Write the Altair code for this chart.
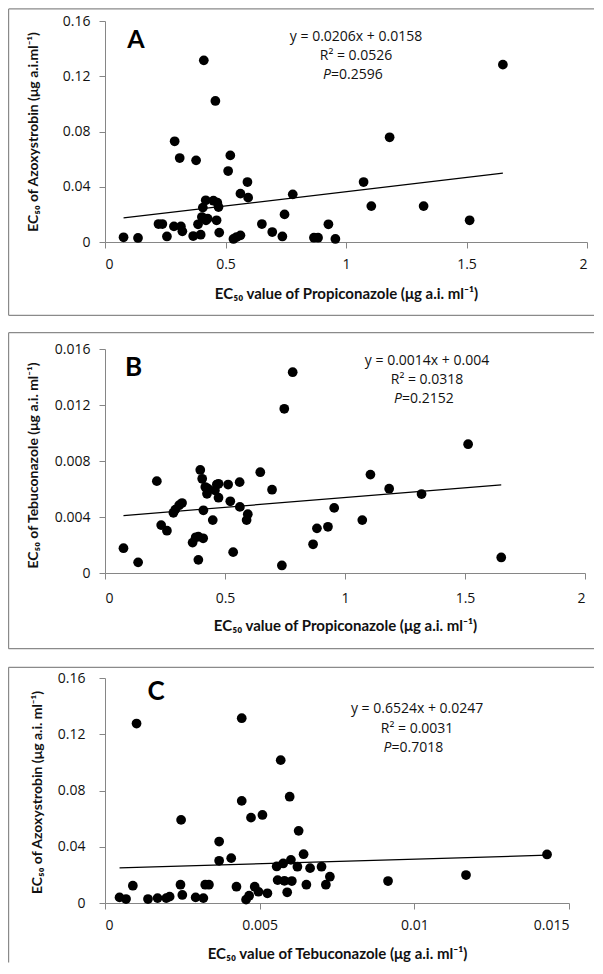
import altair as alt
import pandas as pd

# ---------------- Panel A : Propiconazole (x) vs Azoxystrobin (y)
a_x = [0.077, 0.137, 0.222, 0.238, 0.257, 0.286, 0.289, 0.310, 0.315, 0.321,
       0.366, 0.378, 0.386, 0.397, 0.402, 0.406, 0.410, 0.418, 0.419, 0.426,
       0.450, 0.458, 0.463, 0.466, 0.471, 0.474, 0.511, 0.520, 0.533, 0.546,
       0.562, 0.562, 0.591, 0.594, 0.651, 0.694, 0.736, 0.745, 0.779, 0.867,
       0.884, 0.927, 0.956, 1.073, 1.105, 1.181, 1.322, 1.513, 1.651]
a_y = [0.0034, 0.0029, 0.0130, 0.0130, 0.0040, 0.0113, 0.0729, 0.0608, 0.0113, 0.0077,
       0.0043, 0.0591, 0.0128, 0.0053, 0.0181, 0.0249, 0.1315, 0.0302, 0.0157, 0.0169,
       0.0299, 0.1021, 0.0157, 0.0285, 0.0253, 0.0068, 0.0514, 0.0627, 0.0022, 0.0036,
       0.0048, 0.0350, 0.0434, 0.0321, 0.0130, 0.0072, 0.0040, 0.0200, 0.0345, 0.0031,
       0.0031, 0.0128, 0.0022, 0.0434, 0.0260, 0.0758, 0.0260, 0.0157, 0.1284]
a_line_x = [0.077, 1.651]
a_line_y = [0.0174, 0.0498]

# ---------------- Panel B : Propiconazole (x) vs Tebuconazole (y)
b_x = [0.077, 0.138, 0.216, 0.234, 0.258, 0.285, 0.293, 0.309, 0.321, 0.365,
       0.378, 0.389, 0.397, 0.389, 0.405, 0.409, 0.410, 0.418, 0.425, 0.429,
       0.449, 0.458, 0.466, 0.473, 0.473, 0.513, 0.522, 0.534, 0.561, 0.562,
       0.590, 0.595, 0.647, 0.696, 0.737, 0.747, 0.782, 0.867, 0.883, 0.929,
       0.955, 1.072, 1.106, 1.184, 1.319, 1.513, 1.651]
b_y = [0.00177, 0.00076, 0.00656, 0.00342, 0.00302, 0.00430, 0.00453, 0.00484, 0.00500, 0.00217,
       0.00255, 0.00094, 0.00736, 0.00260, 0.00673, 0.00248, 0.00448, 0.00614, 0.00566, 0.00602,
       0.00378, 0.00590, 0.00632, 0.00538, 0.00637, 0.00632, 0.00512, 0.00149, 0.00649, 0.00472,
       0.00378, 0.00420, 0.00720, 0.00595, 0.00054, 0.01173, 0.01434, 0.00205, 0.00319, 0.00330,
       0.00465, 0.00378, 0.00703, 0.00602, 0.00564, 0.00920, 0.00111]
b_line_x = [0.077, 1.651]
b_line_y = [0.0041, 0.0063]

# ---------------- Panel C : Tebuconazole (x) vs Azoxystrobin (y)
c_x = [0.00047, 0.00068, 0.00090, 0.00102, 0.00139, 0.00170, 0.00198, 0.00209, 0.00244, 0.00246,
       0.00250, 0.00293, 0.00318, 0.00324, 0.00336, 0.00369, 0.00369, 0.00408, 0.00425, 0.00442,
       0.00442, 0.00456, 0.00466, 0.00472, 0.00484, 0.00496, 0.00509, 0.00525, 0.00555, 0.00558,
       0.00568, 0.00576, 0.00580, 0.00589, 0.00597, 0.00601, 0.00604, 0.00622, 0.00626, 0.00642,
       0.00651, 0.00663, 0.00700, 0.00714, 0.00727, 0.00915, 0.01167, 0.01429]
c_y = [0.0040, 0.0028, 0.0123, 0.1276, 0.0028, 0.0035, 0.0035, 0.0045, 0.0130, 0.0591,
       0.0057, 0.0040, 0.0035, 0.0130, 0.0130, 0.0437, 0.0300, 0.0319, 0.0116, 0.1314,
       0.0726, 0.0024, 0.0052, 0.0607, 0.0116, 0.0080, 0.0626, 0.0069, 0.0260, 0.0163,
       0.1016, 0.0281, 0.0158, 0.0076, 0.0756, 0.0307, 0.0156, 0.0258, 0.0513, 0.0347,
       0.0130, 0.0248, 0.0258, 0.0130, 0.0187, 0.0156, 0.0199, 0.0345]
c_line_x = [0.00047, 0.01429]
c_line_y = [0.0250, 0.0340]

# ---------------- texts
letters = ["A", "B", "C"]
eq_lines = [["y = 0.0206x + 0.0158", "R² = 0.0526"],
            ["y = 0.0014x + 0.004", "R² = 0.0318"],
            ["y = 0.6524x + 0.0247", "R² = 0.0031"]]
p_values = ["=0.2596", "=0.2152", "=0.7018"]
x_titles = ["EC₅₀  value of Propiconazole  (μg a.i. ml⁻¹)",
            "EC₅₀  value of Propiconazole  (μg a.i. ml⁻¹)",
            "EC₅₀  value of Tebuconazole  (μg a.i. ml⁻¹)"]
y_titles = ["EC₅₀  of Azoxystrobin (μg a.i.ml⁻¹)",
            "EC₅₀ of Tebuconazole  (μg a.i. ml⁻¹)",
            "EC₅₀ of Azoxystrobin (μg a.i. ml⁻¹)"]
x_ticks = [[0, 0.5, 1, 1.5, 2], [0, 0.5, 1, 1.5, 2], [0, 0.005, 0.01, 0.015]]
y_ticks = [[0, 0.04, 0.08, 0.12, 0.16], [0, 0.004, 0.008, 0.012, 0.016],
           [0, 0.04, 0.08, 0.12, 0.16]]

# annotation anchor positions (data space)
letter_pos = [(0.1286, 0.1402), (0.1188, 0.01409), (0.00165, 0.1447)]
eq_center_x = [1.0415, 1.3417, 0.01009]
eq_line_y = [[0.1453, 0.1315, 0.1178], [0.01488, 0.01352, 0.01216],
             [0.1348, 0.1212, 0.1077]]
p_split_x = [0.9378, 1.2375, 0.00926]

LFONT = "Open Sans"
TFONT = "Lato"
AX = "#868686"

# geometry per panel (pixels)
geo = [
    dict(w=482, h=221, L=96.4, R=489, T=12.1, B=73.3, ls=25, lp=9, tx=-72, tyy=110.5, ty=51.3, xlp=9, bottom=True),
    dict(w=480, h=224, L=96.4, R=489, T=16.3, B=75.7, ls=26, lp=9, tx=-72, tyy=116, ty=52.7, xlp=12, bottom=True),
    dict(w=464, h=225, L=96.4, R=489, T=10.7, B=59.5, ls=26, lp=14, tx=-68, tyy=114, ty=50.3, xlp=9, bottom=False),
]


def panel(i, xs, ys, lx, ly):
    g = geo[i]
    xdom = [x_ticks[i][0], x_ticks[i][-1]]
    ydom = [y_ticks[i][0], y_ticks[i][-1]]
    xs_ = alt.Scale(domain=xdom, nice=False, zero=False)
    ys_ = alt.Scale(domain=ydom, nice=False, zero=False)

    df = pd.DataFrame({"x": xs, "y": ys})
    ldf = pd.DataFrame({"x": lx, "y": ly})
    one = pd.DataFrame({"k": [0]})

    xaxis = alt.Axis(values=x_ticks[i], format="~g", title=x_titles[i], grid=False,
                     domainColor=AX, tickColor=AX, tickSize=6, labelPadding=g["xlp"],
                     labelFont=LFONT, labelFontSize=14, labelColor="#111",
                     titleFont=TFONT, titleFontSize=15, titleFontWeight="bold",
                     titleColor="#111", titleY=g["ty"], titleBaseline="middle")
    yaxis = alt.Axis(values=y_ticks[i], format="~g", title=y_titles[i], grid=False,
                     domainColor=AX, tickColor=AX, tickSize=6, labelPadding=g["lp"],
                     labelFont=LFONT, labelFontSize=14, labelColor="#111",
                     titleFont=TFONT, titleFontSize=14, titleFontWeight="bold",
                     titleColor="#111", titleX=g["tx"], titleY=g["tyy"],
                     titleBaseline="middle")

    pts = alt.Chart(df).mark_circle(size=95, color="black", opacity=1).encode(
        x=alt.X("x:Q", scale=xs_, axis=xaxis),
        y=alt.Y("y:Q", scale=ys_, axis=yaxis),
    )
    line = alt.Chart(ldf).mark_line(color="black", strokeWidth=1.2).encode(
        x=alt.X("x:Q", scale=xs_), y=alt.Y("y:Q", scale=ys_))

    fr = alt.Chart(one).mark_rule(color="#8a8a8a", strokeWidth=1.2)
    frames = [
        fr.encode(x=alt.value(-g["L"]), x2=alt.value(g["R"]), y=alt.value(-g["T"])),
        fr.encode(x=alt.value(-g["L"]), y=alt.value(-g["T"]), y2=alt.value(g["h"] + g["B"])),
    ]
    if g["bottom"]:
        frames.append(fr.encode(x=alt.value(-g["L"]), x2=alt.value(g["R"]),
                                y=alt.value(g["h"] + g["B"])))

    ldf2 = pd.DataFrame({"x": [letter_pos[i][0]], "y": [letter_pos[i][1]], "t": [letters[i]]})
    let = alt.Chart(ldf2).mark_text(font=TFONT, fontSize=g["ls"], fontWeight="bold",
                                    align="center", baseline="alphabetic", color="black").encode(
        x=alt.X("x:Q", scale=xs_), y=alt.Y("y:Q", scale=ys_), text="t:N")

    edf = pd.DataFrame({"x": [eq_center_x[i]] * 2, "y": eq_line_y[i][:2], "t": eq_lines[i]})
    eq = alt.Chart(edf).mark_text(font=LFONT, fontSize=14, align="center",
                                  baseline="alphabetic", color="#111").encode(
        x=alt.X("x:Q", scale=xs_), y=alt.Y("y:Q", scale=ys_), text="t:N")
    pdf1 = pd.DataFrame({"x": [p_split_x[i]], "y": [eq_line_y[i][2]], "t": ["P"]})
    pdf2 = pd.DataFrame({"x": [p_split_x[i]], "y": [eq_line_y[i][2]], "t": [p_values[i]]})
    p1 = alt.Chart(pdf1).mark_text(font=LFONT, fontSize=14, fontStyle="italic", align="right",
                                   baseline="alphabetic", color="#111").encode(
        x=alt.X("x:Q", scale=xs_), y=alt.Y("y:Q", scale=ys_), text="t:N")
    p2 = alt.Chart(pdf2).mark_text(font=LFONT, fontSize=14, align="left",
                                   baseline="alphabetic", color="#111").encode(
        x=alt.X("x:Q", scale=xs_), y=alt.Y("y:Q", scale=ys_), text="t:N")

    return alt.layer(*frames, line, pts, let, eq, p1, p2).properties(width=g["w"], height=g["h"])


pa = panel(0, a_x, a_y, a_line_x, a_line_y)
pb = panel(1, b_x, b_y, b_line_x, b_line_y)
pc = panel(2, c_x, c_y, c_line_x, c_line_y)

chart = alt.vconcat(pa, pb, pc, spacing=16).properties(
    padding=0, background="white"
).configure_view(stroke=None)

chart.save("out.html", embed_options={"renderer": "svg", "actions": False})
